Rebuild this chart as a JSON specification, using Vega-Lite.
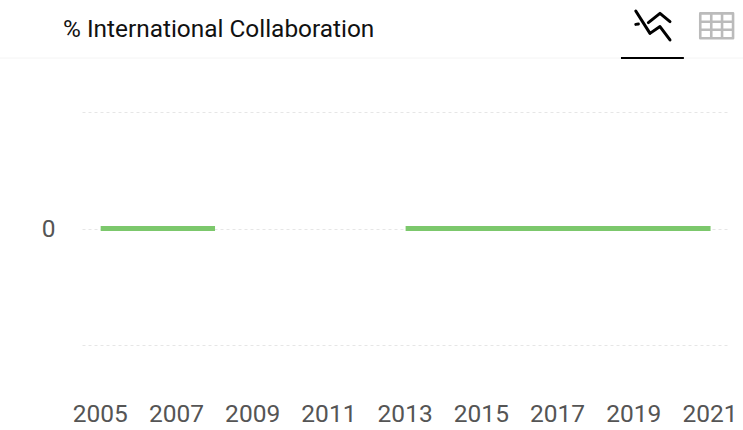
{
"$schema":"https://vega.github.io/schema/vega-lite/v6.json",
"width":648,"height":233,
"autosize":{"type":"none"},
"padding":{"left":82,"top":112,"right":13,"bottom":85},
"background":"white",
"title":{"text":"% International Collaboration","anchor":"start","frame":"group","font":"Roboto","fontSize":24.4,"fontWeight":"normal","color":"#111111","dx":-19,"offset":-33},
"config":{"view":{"stroke":null}},
"layer":[
{"data":{"values":[
{"year":2005,"value":0},{"year":2006,"value":0},{"year":2007,"value":0},{"year":2008,"value":0},
{"year":2009,"value":null},{"year":2010,"value":null},{"year":2011,"value":null},{"year":2012,"value":null},
{"year":2013,"value":0},{"year":2014,"value":0},{"year":2015,"value":0},{"year":2016,"value":0},{"year":2017,"value":0},{"year":2018,"value":0},{"year":2019,"value":0},{"year":2020,"value":0},{"year":2021,"value":0}
]},
"mark":{"type":"line","color":"#7CC86C","strokeWidth":5,"strokeCap":"butt"},
"encoding":{
"x":{"field":"year","type":"quantitative","scale":{"domain":[2004.51,2021.51],"nice":false,"zero":false},
"axis":{"values":[2005,2007,2009,2011,2013,2015,2017,2019,2021],"format":"d","title":null,"grid":false,"domain":false,"ticks":false,"labelFont":"Roboto","labelFontSize":24.5,"labelColor":"#555555","labelPadding":57,"labelFlush":false,"labelOverlap":false,"labelOffset":-1}},
"y":{"field":"value","type":"quantitative","scale":{"domain":[-1,1],"nice":false,"zero":false},
"axis":{"values":[-1,0,1],"labelExpr":"datum.value==0?'0':''","title":null,"domain":false,"ticks":false,"grid":true,"gridColor":"#e6e6e6","gridDash":[3,3],"gridWidth":1,"labelFont":"Roboto","labelFontSize":24.5,"labelColor":"#555555","labelPadding":27,"labelOffset":1}}
}},
{"data":{"values":[{}]},"mark":{"type":"rule","color":"#f4f4f4","strokeWidth":1},
"encoding":{"x":{"datum":2002.36,"type":"quantitative"},"x2":{"datum":2021.85},"y":{"datum":1.463,"type":"quantitative"}}},
{"data":{"values":[{}]},"mark":{"type":"rule","color":"#000000","strokeWidth":2},
"encoding":{"x":{"datum":2018.65,"type":"quantitative"},"x2":{"datum":2020.3},"y":{"datum":1.463,"type":"quantitative"}}},
{"data":{"values":[{}]},"mark":{"type":"point","size":1600,"filled":false,"stroke":"#000000","strokeWidth":3,"opacity":1,"strokeCap":"round","strokeJoin":"round",
"shape":"M-0.88,-0.7L-0.17,0.42L0.33,0.08L0.83,0.75M-0.25,-0.12L0.33,-0.58L0.83,-0.17M-0.88,-0.03L-0.75,-0.05"},
"encoding":{"x":{"datum":2019.5,"type":"quantitative"},"y":{"datum":1.747,"type":"quantitative"}}},
{"data":{"values":[{}]},"mark":{"type":"point","size":1600,"filled":false,"stroke":"#bbbbbb","strokeWidth":2.6,"opacity":1,"strokeJoin":"round",
"shape":"M-0.82,-0.62H0.82V0.62H-0.82ZM-0.27,-0.62V0.62M0.27,-0.62V0.62M-0.82,-0.2H0.82M-0.82,0.2H0.82"},
"encoding":{"x":{"datum":2021.16,"type":"quantitative"},"y":{"datum":1.74,"type":"quantitative"}}}
]
}
